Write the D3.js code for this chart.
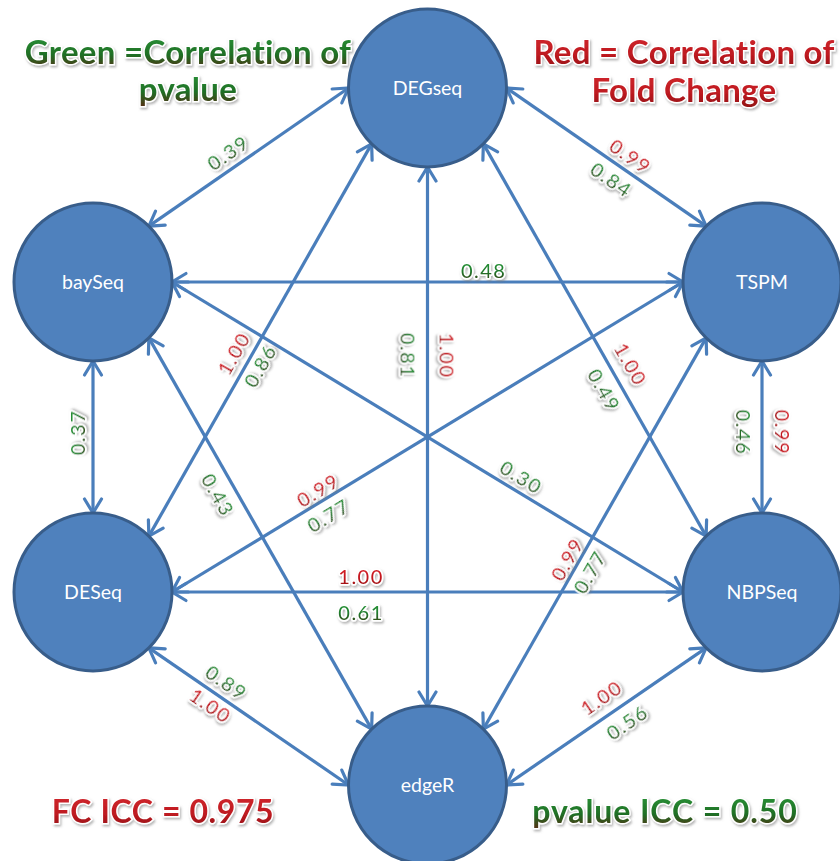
<!DOCTYPE html>
<html><head><meta charset="utf-8">
<script src="https://cdn.jsdelivr.net/npm/d3@7"></script>
<style>body{margin:0;background:#fff}</style>
</head><body>
<svg id="chart" width="840" height="861"></svg>
<script>
// ---------------- data ----------------
const methods = ["DEGseq","baySeq","TSPM","DESeq","NBPSeq","edgeR"];
const edgeSource = ["baySeq","DEGseq","baySeq","DESeq","DEGseq","DEGseq","baySeq","DESeq","baySeq","DESeq","DESeq","edgeR","TSPM","edgeR","DESeq"];
const edgeTarget = ["DEGseq","TSPM","TSPM","DEGseq","edgeR","NBPSeq","NBPSeq","baySeq","edgeR","TSPM","NBPSeq","TSPM","NBPSeq","NBPSeq","edgeR"];
const fcCorr   = [null,0.99,null,1.00,1.00,1.00,null,null,null,0.99,1.00,0.99,0.99,1.00,1.00];
const pvalCorr = [0.39,0.84,0.48,0.86,0.81,0.49,0.30,0.37,0.43,0.77,0.61,0.77,0.46,0.56,0.89];
const legendGreen = ["Green =Correlation of","pvalue"];
const legendRed = ["Red = Correlation of","Fold Change"];
const fcICC = "FC ICC = 0.975";
const pvalICC = "pvalue ICC = 0.50";

// ---------------- layout ----------------
const colOf = {DEGseq:"center", baySeq:"left", TSPM:"right", DESeq:"left", NBPSeq:"right", edgeR:"center"};
const rowOf = {DEGseq:"top", baySeq:"upper", TSPM:"upper", DESeq:"lower", NBPSeq:"lower", edgeR:"bottom"};
const xScale = d3.scalePoint().domain(["left","center","right"]).range([93,762]);
const yScale = d3.scaleOrdinal().domain(["top","upper","lower","bottom"]).range([88,282,592,785]);
const R = 79;
const portAngle = d3.scaleOrdinal().domain(["N","NE","E","SE","S","SW","W","NW"]).range([-90,-45,0,45,90,135,180,-135]);
const portSource = ["NE","E","E","NE","S","SE","E","N","SE","E","E","NE","S","E","SE"];
const portTarget = ["W","NW","W","SW","N","NW","W","S","NW","W","W","SW","N","SW","W"];
// label placement along edge (fraction, perpendicular offset)
const fcPlace   = [null,[.58,15],null,[.445,17],[.35,20],[.586,20],null,null,null,[.297,12],[.37,16],[.42,12],[.47,21],[.527,19],[.345,-12]];
const pvalPlace = [[.44,16],[.57,-15],[.61,12],[.45,-12],[.35,-19],[.607,-16],[.669,15],[.53,16],[.379,-17],[.29,-15],[.37,-20],[.42,-14],[.47,-18],[.557,-16],[.345,16]];

const nodePos = n => [xScale(colOf[n]), yScale(rowOf[n])];
const port = (n, p) => { const [cx,cy] = nodePos(n); const a = portAngle(p)*Math.PI/180; return [cx + R*Math.cos(a), cy + R*Math.sin(a)]; };

const svg = d3.select("#chart");
const defs = svg.append("defs");
const LINE = "#4a7ebb";

defs.append("marker").attr("id","arr").attr("viewBox","-18 -11 22 22")
  .attr("refX",0).attr("refY",0).attr("markerWidth",22).attr("markerHeight",22)
  .attr("markerUnits","userSpaceOnUse").attr("orient","auto-start-reverse")
  .append("path").attr("d","M-14,-8.5 L0,0 L-14,8.5").attr("fill","none")
  .attr("stroke",LINE).attr("stroke-width",3.2).attr("stroke-linejoin","miter").attr("stroke-linecap","round");

function grad(id, stops){
  const g = defs.append("linearGradient").attr("id",id).attr("x1",0).attr("y1",0).attr("x2",0).attr("y2",1);
  stops.forEach(([o,c]) => g.append("stop").attr("offset",o).attr("stop-color",c));
}
grad("gGreen",[[0,"#2aa23c"],[0.55,"#1f7a2c"],[1,"#3b3a14"]]);
grad("gRed",[[0,"#e0262e"],[0.6,"#c0141c"],[1,"#8e0f12"]]);
grad("gGreenH",[[0,"#2c9a3a"],[0.6,"#1f6e25"],[1,"#5a2a12"]]);
grad("gRedH",[[0,"#d42a30"],[0.6,"#be1a20"],[1,"#8c1014"]]);

const f = defs.append("filter").attr("id","shadow").attr("x","-20%").attr("y","-30%").attr("width","140%").attr("height","160%");
f.append("feDropShadow").attr("dx",1.2).attr("dy",1.8).attr("stdDeviation",1.2).attr("flood-color","#777").attr("flood-opacity",0.55);

// edges
const edges = edgeSource.map((s,i) => {
  const p0 = port(s, portSource[i]), p1 = port(edgeTarget[i], portTarget[i]);
  return {i, p0, p1};
});
svg.append("g").selectAll("line").data(edges).join("line")
  .attr("x1",d=>d.p0[0]).attr("y1",d=>d.p0[1]).attr("x2",d=>d.p1[0]).attr("y2",d=>d.p1[1])
  .attr("stroke",LINE).attr("stroke-width",3.2)
  .attr("marker-start","url(#arr)").attr("marker-end","url(#arr)");

// nodes
const ng = svg.append("g").selectAll("g").data(methods).join("g")
  .attr("transform", d => `translate(${nodePos(d)})`);
ng.append("circle").attr("r",R).attr("fill","#4f81bd").attr("stroke","#385d8a").attr("stroke-width",3);
ng.append("text").text(d=>d).attr("text-anchor","middle").attr("dy","0.35em")
  .attr("fill","#fff").attr("font-family","Lato, 'Open Sans', sans-serif").attr("font-size",19.5);

// edge labels
const labels = [];
edges.forEach(e => {
  const dx = e.p1[0]-e.p0[0], dy = e.p1[1]-e.p0[1];
  const a = Math.atan2(dy,dx);
  const nx = Math.sin(a), ny = -Math.cos(a);
  [[fcCorr, fcPlace, "gRed"], [pvalCorr, pvalPlace, "gGreen"]].forEach(([vals, place, g]) => {
    const v = vals[e.i]; if (v == null) return;
    const [t, off] = place[e.i];
    labels.push({x: e.p0[0]+dx*t+nx*off, y: e.p0[1]+dy*t+ny*off, ang: a*180/Math.PI, txt: d3.format(".2f")(v), g});
  });
});
svg.append("g").selectAll("text").data(labels).join("text")
  .attr("transform", d => `translate(${d.x},${d.y}) rotate(${d.ang})`)
  .attr("text-anchor","middle").attr("dominant-baseline","central")
  .attr("font-family","Lato, sans-serif").attr("font-size",20).attr("letter-spacing",1.5)
  .attr("fill", d => `url(#${d.g})`).attr("stroke","#fff").attr("stroke-width",3.5)
  .attr("paint-order","stroke").attr("stroke-linejoin","round")
  .attr("filter","url(#shadow)").text(d=>d.txt);

// headings
function heading(lines, x, y0, lh, g, size, ls){
  lines.forEach((l,k) => svg.append("text").attr("x",x).attr("y",y0+k*lh)
    .attr("text-anchor","middle").attr("font-family","Lato, sans-serif").attr("font-weight","bold")
    .attr("font-size",size).attr("letter-spacing",ls).attr("fill",`url(#${g})`).attr("stroke","#fff").attr("stroke-width",3)
    .attr("paint-order","stroke").attr("filter","url(#shadow)").text(l));
}
heading(legendGreen, 188, 64, 37, "gGreenH", 33, 0.3);
heading(legendRed, 684, 64, 38, "gRedH", 33, 0.3);
heading([fcICC], 163, 823, 0, "gRedH", 32, 0.6);
heading([pvalICC], 665, 823, 0, "gGreenH", 32, 0.9);
</script>
</body></html>
